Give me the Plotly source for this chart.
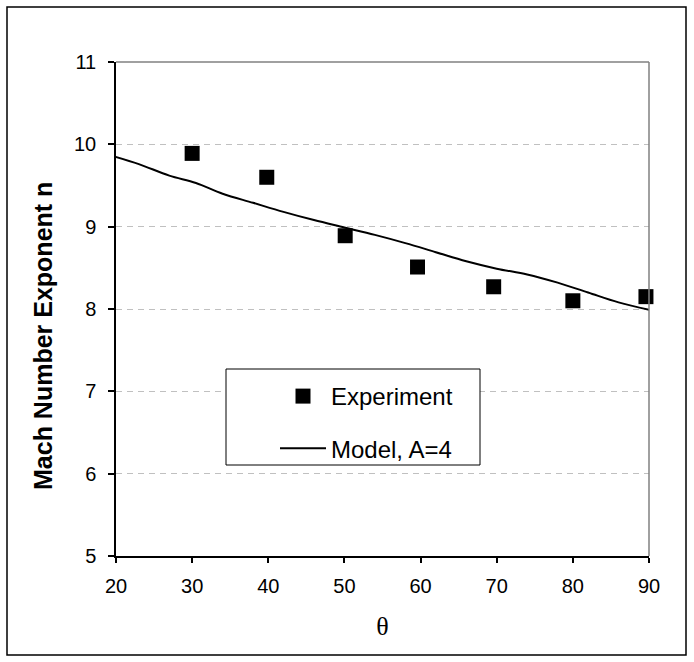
import plotly.graph_objects as go

theta_exp = [30, 39.8, 50.1, 59.6, 69.6, 80.0, 89.6]
n_exp = [9.89, 9.60, 8.89, 8.51, 8.27, 8.10, 8.15]

theta_model = [19.5, 23, 27, 30.5, 34, 38, 42, 46, 50, 54, 58, 62, 66, 70, 74, 78, 82, 86, 91]
n_model = [9.86, 9.76, 9.62, 9.53, 9.40, 9.29, 9.18, 9.08, 8.99, 8.90, 8.80, 8.69, 8.58, 8.49, 8.42, 8.32, 8.20, 8.08, 7.97]

x_ticks = [20, 30, 40, 50, 60, 70, 80, 90]
y_ticks = [5, 6, 7, 8, 9, 10, 11]

W, H = 694, 662
L, R, T, B = 116, 45, 62, 106
pw, ph = W - L - R, H - T - B

def px(x):
    return (x - L) / pw

def py(y):
    return (H - B - y) / ph

FONT = "Arial, 'Liberation Sans', sans-serif"

fig = go.Figure()
fig.add_trace(go.Scatter(
    x=theta_exp, y=n_exp, mode="markers", name="Experiment",
    marker=dict(symbol="square", size=15, color="black"),
    legendgroup="a", cliponaxis=False,
))
fig.add_trace(go.Scatter(
    x=theta_model, y=n_model, mode="lines", name="Model, A=4",
    line=dict(color="black", width=2, shape="spline"),
    legendgroup="b",
))

fig.update_layout(
    width=W, height=H,
    margin=dict(l=L, r=R, t=T, b=B, autoexpand=False),
    paper_bgcolor="white", plot_bgcolor="white",
    font=dict(family=FONT, color="black", size=20),
    showlegend=True,
    legend=dict(
        x=px(275), y=py(374), xanchor="left", yanchor="top",
        borderwidth=0, bgcolor="rgba(0,0,0,0)",
        font=dict(size=24, family=FONT),
        tracegroupgap=18, itemwidth=46,
    ),
    xaxis=dict(
        range=[20, 90], tickvals=x_ticks, ticktext=[str(v) for v in x_ticks],
        showline=True, linecolor="black", linewidth=1.5,
        ticks="outside", ticklen=5, tickcolor="black", tickwidth=1.5,
        ticklabelstandoff=6,
        showgrid=False, zeroline=False,
        tickfont=dict(size=20),
        title=dict(text="θ", font=dict(size=26, family="'Times New Roman', 'Liberation Serif', serif"), standoff=21),
    ),
    yaxis=dict(
        range=[5, 11], tickvals=y_ticks, ticktext=[str(v) for v in y_ticks],
        showline=True, linecolor="black", linewidth=1.5,
        ticks="outside", ticklen=6, tickcolor="black", tickwidth=1.5,
        ticklabelstandoff=8,
        showgrid=True, gridcolor="#c0c0c0", gridwidth=1, griddash="6px,5px",
        zeroline=False,
        tickfont=dict(size=20),
    ),
    annotations=[
        dict(text="<b>Mach Number Exponent n</b>", xref="paper", yref="paper",
             x=px(43), y=py(336), xanchor="center", yanchor="middle",
             textangle=-90, showarrow=False, font=dict(size=25, family=FONT)),
    ],
    shapes=[
        dict(type="line", xref="paper", yref="paper", x0=0, x1=1, y0=1, y1=1,
             line=dict(color="#808080", width=1.5)),
        dict(type="line", xref="paper", yref="paper", x0=1, x1=1, y0=0, y1=1,
             line=dict(color="#808080", width=1.5)),
        dict(type="rect", xref="paper", yref="paper",
             x0=px(7), x1=px(686), y0=py(655), y1=py(7),
             line=dict(color="black", width=1.5), layer="below"),
        dict(type="rect", xref="paper", yref="paper",
             x0=px(226), x1=px(480), y0=py(465), y1=py(369),
             line=dict(color="black", width=1), fillcolor="white", layer="above"),
    ],
)

fig.write_html("out.html")
